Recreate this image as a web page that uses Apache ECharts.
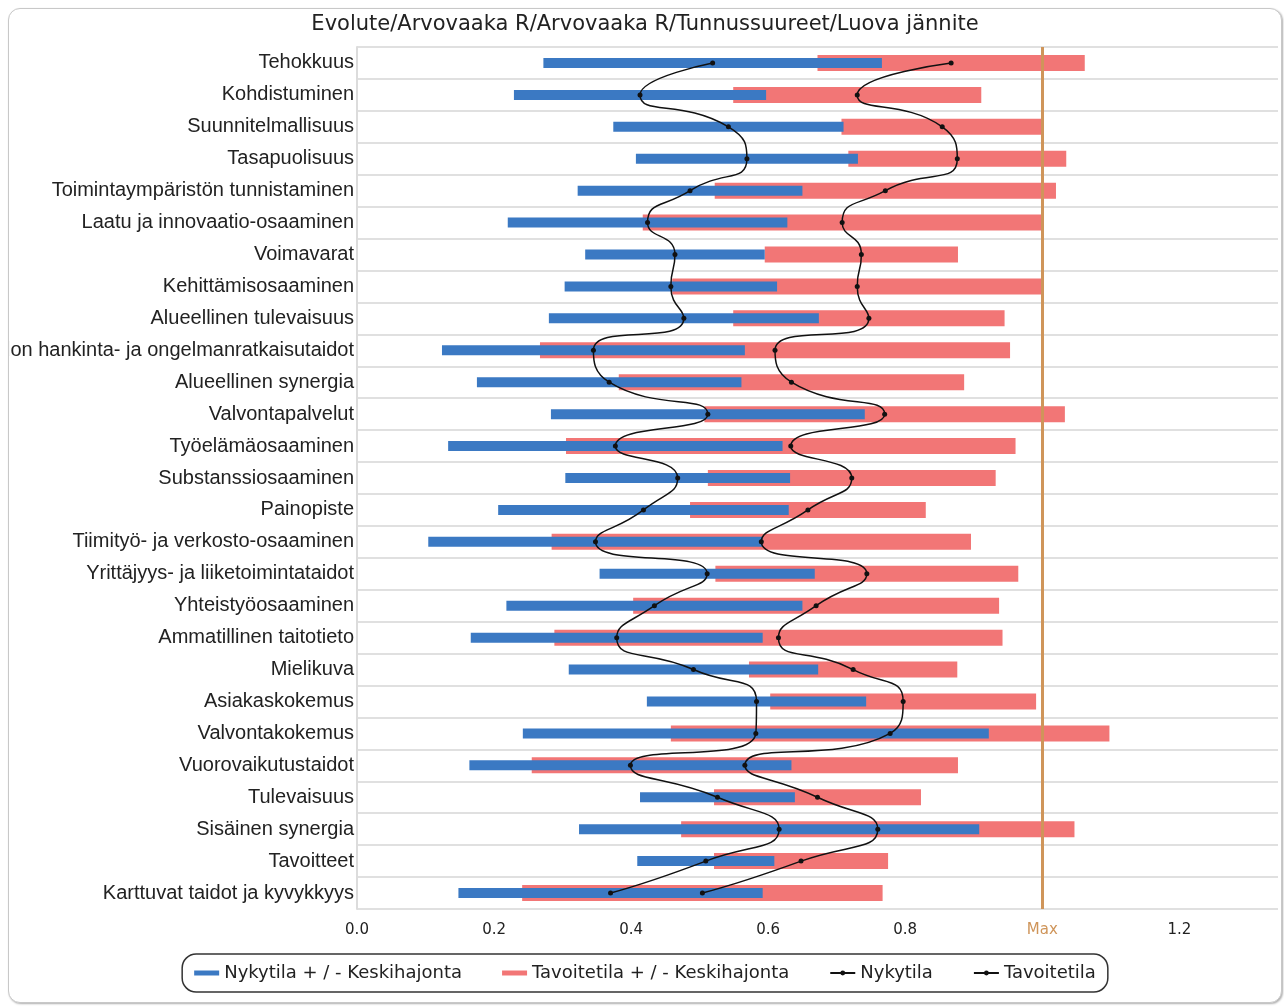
<!DOCTYPE html>
<html>
<head>
<meta charset="utf-8">
<script src="https://cdn.jsdelivr.net/npm/echarts@6/dist/echarts.min.js"></script>
<style>
  html, body { margin: 0; padding: 0; background: #fff; }
  #frame {
    position: absolute; left: 8px; top: 8px; width: 1274px; height: 995px;
    box-sizing: border-box; border: 1px solid #c8c8c8; border-radius: 12px;
    box-shadow: 1px 1px 2px #b0b0b0; overflow: hidden; background: #fff;
  }
  #main { width: 1272px; height: 993px; }
</style>
</head>
<body>
<div id="frame"><div id="main"></div></div>
<script>
var categories = ['Tehokkuus', 'Kohdistuminen', 'Suunnitelmallisuus', 'Tasapuolisuus',
  'Toimintaympäristön tunnistaminen', 'Laatu ja innovaatio-osaaminen', 'Voimavarat',
  'Kehittämisosaaminen', 'Alueellinen tulevaisuus', 'Tiedon hankinta- ja ongelmanratkaisutaidot',
  'Alueellinen synergia', 'Valvontapalvelut', 'Työelämäosaaminen', 'Substanssiosaaminen',
  'Painopiste', 'Tiimityö- ja verkosto-osaaminen', 'Yrittäjyys- ja liiketoimintataidot',
  'Yhteistyöosaaminen', 'Ammatillinen taitotieto', 'Mielikuva', 'Asiakaskokemus',
  'Valvontakokemus', 'Vuorovaikutustaidot', 'Tulevaisuus', 'Sisäinen synergia',
  'Tavoitteet', 'Karttuvat taidot ja kyvykkyys'];

// Nykytila (current state): mean and standard deviation
var nykytila = [0.519, 0.413, 0.542, 0.569, 0.486, 0.424, 0.464, 0.458, 0.477, 0.345,
  0.368, 0.512, 0.377, 0.468, 0.418, 0.348, 0.511, 0.434, 0.379, 0.491, 0.583,
  0.582, 0.399, 0.526, 0.616, 0.509, 0.370];
var nykytilaSd = [0.247, 0.184, 0.168, 0.162, 0.164, 0.204, 0.131, 0.155, 0.197, 0.221,
  0.193, 0.229, 0.244, 0.164, 0.212, 0.244, 0.157, 0.216, 0.213, 0.182, 0.160,
  0.340, 0.235, 0.113, 0.292, 0.100, 0.222];

// Tavoitetila (target state): mean and standard deviation
var tavoitetila = [0.867, 0.730, 0.854, 0.876, 0.771, 0.708, 0.736, 0.730, 0.747, 0.610,
  0.634, 0.770, 0.633, 0.722, 0.658, 0.590, 0.744, 0.670, 0.615, 0.724, 0.797,
  0.778, 0.566, 0.672, 0.760, 0.648, 0.504];
var tavoitetilaSd = [0.195, 0.181, 0.147, 0.159, 0.249, 0.291, 0.141, 0.270, 0.198, 0.343,
  0.252, 0.263, 0.328, 0.210, 0.172, 0.306, 0.221, 0.267, 0.327, 0.152, 0.194,
  0.320, 0.311, 0.151, 0.287, 0.127, 0.263];

var maxValue = 1.0;
var blue = '#3b79c3', red = '#f27676', orange = '#cf955a';

function ranges(mean, sd) {
  return mean.map(function (m, i) { return [i, m - sd[i], m + sd[i]]; });
}

function rangeBar(h) {
  return function (params, api) {
    var lo = api.coord([api.value(1), api.value(0)]);
    var hi = api.coord([api.value(2), api.value(0)]);
    return {
      type: 'rect',
      shape: { x: lo[0], y: lo[1] - h / 2, width: hi[0] - lo[0], height: h },
      style: api.style()
    };
  };
}

var myChart = echarts.init(document.getElementById('main'));

var option = {
  animation: false,
  title: {
    text: 'Evolute/Arvovaaka R/Arvovaaka R/Tunnussuureet/Luova jännite',
    left: 'center', top: 0,
    textStyle: { fontFamily: 'DejaVu Sans', fontSize: 21, fontWeight: 'normal', color: '#222' }
  },
  grid: { left: 348, top: 38, right: 3, bottom: 93, containLabel: false, outerBoundsMode: 'none' },
  legend: {
    left: 'center', bottom: 10,
    borderColor: '#333', borderWidth: 1.5, borderRadius: 14,
    padding: [10, 12], itemGap: 40, itemWidth: 25, itemHeight: 6,
    textStyle: { fontFamily: 'DejaVu Sans', fontSize: 18, color: '#222' },
    data: [
      { name: 'Nykytila + / - Keskihajonta', icon: 'path://M0,0H25V5H0Z' },
      { name: 'Tavoitetila + / - Keskihajonta', icon: 'path://M0,0H25V5H0Z' },
      'Nykytila', 'Tavoitetila'
    ]
  },
  xAxis: {
    type: 'value', min: 0, max: 1.344, interval: 0.2,
    axisLine: { show: false }, axisTick: { show: false }, splitLine: { show: false },
    axisLabel: {
      fontFamily: 'DejaVu Sans', fontSize: 15, margin: 14,
      color: function (v) { return Math.abs(v - maxValue) < 1e-6 ? orange : '#222'; },
      formatter: function (v) {
        if (Math.abs(v - maxValue) < 1e-6) return 'Max';
        var k = v / 0.2;
        return Math.abs(k - Math.round(k)) < 1e-6 ? v.toFixed(1) : '';
      }
    }
  },
  yAxis: {
    type: 'category', data: categories, inverse: true,
    axisLine: { show: true, lineStyle: { color: '#dcdcdc', width: 2 } },
    axisTick: { show: false },
    axisLabel: { interval: 0, margin: 3, fontFamily: 'Liberation Sans', fontSize: 20, color: '#222' },
    splitLine: { show: true, interval: 0, lineStyle: { color: '#e0e0e0', width: 2 } }
  },
  series: [
    {
      name: 'Tavoitetila + / - Keskihajonta', type: 'custom',
      renderItem: rangeBar(16), itemStyle: { color: red },
      encode: { x: [1, 2], y: 0 }, data: ranges(tavoitetila, tavoitetilaSd), z: 2
    },
    {
      name: 'Nykytila + / - Keskihajonta', type: 'custom',
      renderItem: rangeBar(10), itemStyle: { color: blue },
      encode: { x: [1, 2], y: 0 }, data: ranges(nykytila, nykytilaSd), z: 3,
      markLine: {
        silent: true, symbol: 'none', label: { show: false },
        lineStyle: { color: orange, width: 3, type: 'solid' },
        data: [{ xAxis: maxValue }]
      }
    },
    {
      name: 'Nykytila', type: 'line', data: nykytila, smooth: 0.6, z: 5,
      symbol: 'circle', symbolSize: 5, itemStyle: { color: '#111' },
      lineStyle: { color: '#111', width: 1.5 }
    },
    {
      name: 'Tavoitetila', type: 'line', data: tavoitetila, smooth: 0.6, z: 5,
      symbol: 'circle', symbolSize: 5, itemStyle: { color: '#111' },
      lineStyle: { color: '#111', width: 1.5 }
    }
  ]
};

myChart.setOption(option);
</script>
</body>
</html>
